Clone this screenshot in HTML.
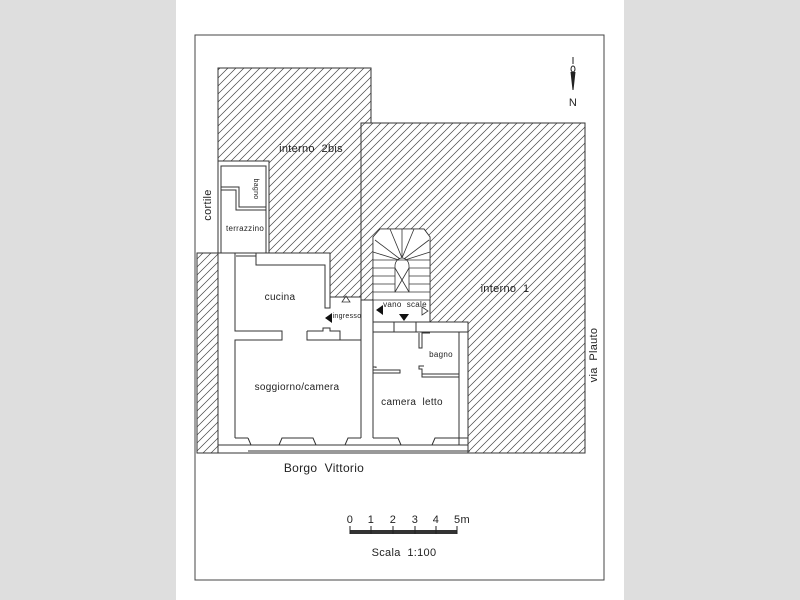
<!DOCTYPE html>
<html><head><style>
html,body{margin:0;padding:0;background:#dedede;}
svg{display:block}
text{font-family:"Liberation Sans",sans-serif;fill:#222;white-space:pre;letter-spacing:0.3px}
</style></head><body>
<svg width="800" height="600" viewBox="0 0 800 600">
<defs>
<pattern id="h" patternUnits="userSpaceOnUse" width="8" height="8">
<path d="M-1,9 L9,-1 M-1,1 L1,-1 M7,9 L9,7" stroke="#444" stroke-width="0.7"/>
</pattern>
</defs>
<rect x="0" y="0" width="800" height="600" fill="#dedede"/>
<rect x="176" y="0" width="448" height="600" fill="#fff"/>
<rect x="195" y="35" width="409" height="545" fill="none" stroke="#444" stroke-width="1"/>
<g stroke="#333" stroke-width="1" fill="url(#h)">
<polygon points="218,68 371,68 371,123 361,123 361,297 330,297 330,253 269,253 269,161 218,161"/>
<polygon points="361,123 585,123 585,453 468,453 468,322 430,322 430,237 424,229 380,229 373,237 373,300 361,300"/>
<rect x="197" y="253" width="21" height="200"/>
</g>
<g stroke="#333" stroke-width="1" fill="none">
<rect x="218" y="161" width="51" height="92"/>
<rect x="221" y="166" width="45" height="87"/>
<polyline points="221,187 239,187 239,207 266,207"/>
<polyline points="221,190 236,190 236,210 266,210"/>
<line x1="236" y1="253" x2="256" y2="253"/><line x1="236" y1="256" x2="256" y2="256"/>
<polyline points="218,253 218,453 468,453 468,322"/>
<line x1="218" y1="445" x2="468" y2="445"/>
<polyline points="235,253 235,331 282,331 282,340 235,340 235,438"/>
<polyline points="256,253 256,265 325,265 325,308 330,308 330,297"/>
<polyline points="307,331 307,340 340,340 340,331 330,331 330,328 323,328 323,331 307,331"/>
<polyline points="340,340 361,340 361,367"/>
<line x1="361" y1="300" x2="361" y2="340"/>
<line x1="373" y1="300" x2="373" y2="340"/>
<line x1="361" y1="300" x2="373" y2="300"/>
<line x1="373" y1="322" x2="430" y2="322"/>
<line x1="373" y1="332" x2="468" y2="332"/>
<line x1="394" y1="322" x2="394" y2="332"/><line x1="416" y1="322" x2="416" y2="332"/>
<polyline points="361,367 361,438"/>
<polyline points="373,340 373,438"/>
<polyline points="373,367 376,367 376,368"/>
<polyline points="373,370 400,370 400,373 373,373"/>
<polyline points="459,332 459,438"/>
<polyline points="430,333 422,333 422,348 419,348 419,333"/>
<polyline points="424,366 419,366 419,369 422,369 422,377 459,377"/>
<line x1="422" y1="374" x2="459" y2="374"/>
<line x1="235" y1="438" x2="248" y2="438"/>
<polyline points="248,438 251,445"/>
<polyline points="279,445 282,438 313,438 316,445"/>
<polyline points="345,445 348,438 361,438"/>
<line x1="251" y1="445" x2="279" y2="445"/>
<polyline points="373,438 398,438 401,445"/>
<polyline points="432,445 435,438 459,438 459,445"/>
<line x1="248" y1="451" x2="470" y2="451"/>
<line x1="459" y1="438" x2="468" y2="438"/>
</g>
<g stroke="#333" stroke-width="0.8" fill="#fff">
<polygon points="373,237 380,229 424,229 430,237 430,300 373,300"/>
</g>
<g stroke="#333" stroke-width="0.8" fill="none">
<line x1="373" y1="260" x2="430" y2="260"/>
<line x1="373" y1="268" x2="395" y2="268"/><line x1="409" y1="268" x2="430" y2="268"/>
<line x1="373" y1="276" x2="395" y2="276"/><line x1="409" y1="276" x2="430" y2="276"/>
<line x1="373" y1="284" x2="395" y2="284"/><line x1="409" y1="284" x2="430" y2="284"/>
<line x1="373" y1="292" x2="395" y2="292"/><line x1="409" y1="292" x2="430" y2="292"/>
<path d="M395,292 L395,266 A7,8 0 0 1 409,266 L409,292 Z"/>
<line x1="395" y1="268" x2="409" y2="292"/><line x1="409" y1="268" x2="395" y2="292"/>
<line x1="402" y1="258" x2="402" y2="229"/><line x1="402" y1="258" x2="390" y2="229"/><line x1="402" y1="258" x2="414" y2="229"/>
<line x1="400" y1="259" x2="375" y2="240"/><line x1="404" y1="259" x2="429" y2="240"/>
<line x1="399" y1="260" x2="373" y2="252"/><line x1="405" y1="260" x2="430" y2="252"/>
<path d="M342,302 L346,296 L350,302 Z"/>
<path d="M422,307 L428,311 L422,315 Z"/>
</g>
<g fill="#111">
<path d="M325,318 L332,313 L332,323 Z"/>
<path d="M376,310 L383,305 L383,315 Z"/>
<path d="M399,314 L409,314 L404,321 Z"/>
</g>
<g stroke="#222" fill="none" stroke-width="1">
<line x1="573" y1="57" x2="573" y2="64"/>
<ellipse cx="573" cy="69" rx="2" ry="3"/>
<path d="M571,72 L573,90 L575,72" fill="#222"/>
</g>
<text x="573" y="106" font-size="11" text-anchor="middle">N</text>
<rect x="350" y="530" width="107" height="4" fill="#333"/>
<g stroke="#222" stroke-width="1">
<line x1="350" y1="526" x2="350" y2="534"/><line x1="371" y1="526" x2="371" y2="534"/>
<line x1="393" y1="526" x2="393" y2="534"/><line x1="415" y1="526" x2="415" y2="534"/>
<line x1="436" y1="526" x2="436" y2="534"/><line x1="457" y1="526" x2="457" y2="534"/>
</g>
<g font-size="11" text-anchor="middle">
<text x="350" y="523">0</text><text x="371" y="523">1</text><text x="393" y="523">2</text>
<text x="415" y="523">3</text><text x="436" y="523">4</text><text x="462" y="523">5m</text>
</g>
<text x="404" y="556" font-size="11" text-anchor="middle">Scala  1:100</text>
<text x="311" y="152" font-size="11" text-anchor="middle">interno  2bis</text>
<text x="505" y="292" font-size="11" text-anchor="middle">interno  1</text>
<text x="324" y="472" font-size="12" text-anchor="middle">Borgo  Vittorio</text>
<text x="280" y="300" font-size="10" text-anchor="middle">cucina</text>
<text x="297" y="390" font-size="10" text-anchor="middle">soggiorno/camera</text>
<text x="412" y="405" font-size="10" text-anchor="middle">camera  letto</text>
<text x="441" y="357" font-size="8" text-anchor="middle">bagno</text>
<text x="245" y="231" font-size="8" text-anchor="middle">terrazzino</text>
<text x="347" y="318" font-size="7" text-anchor="middle">ingresso</text>
<text x="405" y="307" font-size="8" text-anchor="middle">vano  scale</text>
<text transform="translate(211,205) rotate(-90)" font-size="11" text-anchor="middle">cortile</text>
<text transform="translate(254,189) rotate(90)" font-size="7" text-anchor="middle">bagno</text>
<text transform="translate(597,355) rotate(-90)" font-size="11" text-anchor="middle">via  Plauto</text>
</svg>
</body></html>
